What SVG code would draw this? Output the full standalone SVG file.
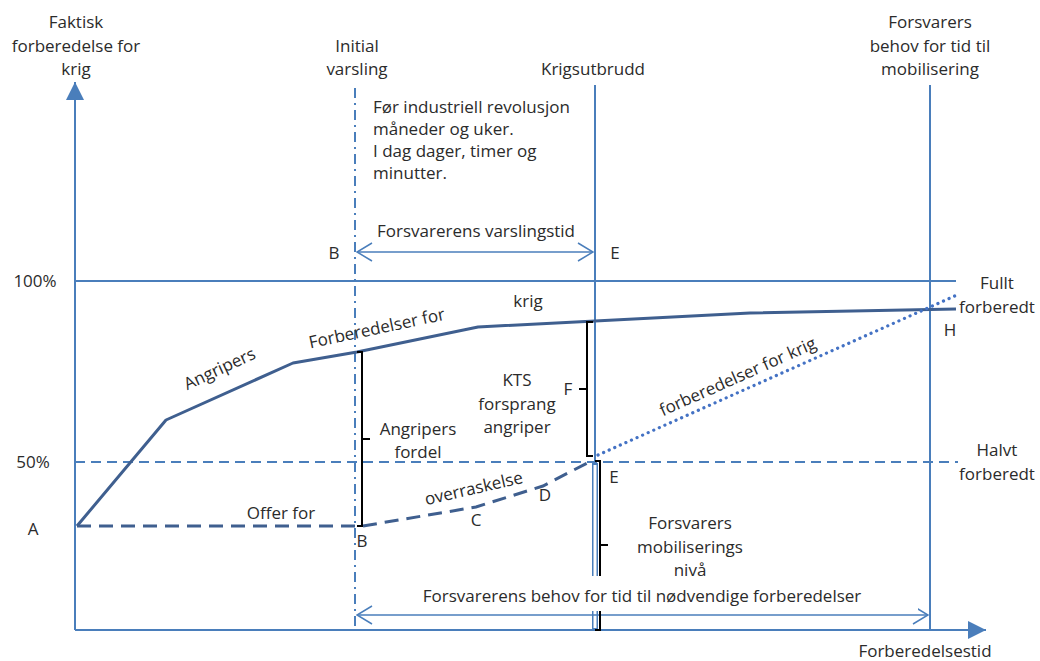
<svg xmlns="http://www.w3.org/2000/svg" width="1040" height="661" viewBox="0 0 1040 661">
<defs>
<style>
text{font-family:"Open Sans","Liberation Sans",sans-serif;font-size:17px;fill:#2b2b2b}
.c{text-anchor:middle}
.ax{stroke:#4a7ebb;stroke-width:2;fill:none}
.thin{stroke:#4a7ebb;stroke-width:1.5;fill:none}
.dash{stroke:#4a7ebb;stroke-width:2;stroke-dasharray:10 6;fill:none}
.dd{stroke:#4a7ebb;stroke-width:2;stroke-dasharray:10 5 2 5;fill:none}
.att{stroke:#3f5f8f;stroke-width:3;fill:none;stroke-linejoin:round}
.def{stroke:#3f5f8f;stroke-width:3;stroke-dasharray:14 8;fill:none}
.dot{stroke:#4472c4;stroke-width:3.2;stroke-dasharray:0.1 6;stroke-linecap:round;fill:none}
.br{stroke:#000;stroke-width:2;fill:none}
</style>
<marker id="fa" viewBox="0 0 10 10" refX="10" refY="5" markerWidth="18" markerHeight="18" markerUnits="userSpaceOnUse" orient="auto">
<path d="M0,0 L10,5 L0,10 z" fill="#4a7ebb"/>
</marker>
<marker id="oa" viewBox="0 0 17 20" refX="16" refY="10" markerWidth="17" markerHeight="20" markerUnits="userSpaceOnUse" orient="auto-start-reverse">
<path d="M1,1 L16,10 L1,19" fill="none" stroke="#4a7ebb" stroke-width="1.5"/>
</marker>
</defs>
<rect width="1040" height="661" fill="#fff"/>

<g id="connectors">
<line class="ax" x1="75" y1="630" x2="75" y2="82" marker-end="url(#fa)"/>
<line class="ax" x1="75" y1="630" x2="986" y2="630" marker-end="url(#fa)"/>
<line class="ax" x1="75" y1="281" x2="956" y2="281"/>
<line class="dash" x1="75" y1="462" x2="958" y2="462"/>
<line class="dd" x1="355" y1="88" x2="355" y2="630"/>
<line class="ax" x1="595" y1="85" x2="595" y2="630"/>
<line stroke="#4a7ebb" stroke-width="6" x1="595" y1="463" x2="595" y2="630"/>
<line stroke="#fff" stroke-width="3" x1="595" y1="465" x2="595" y2="628"/>
<line class="ax" x1="930" y1="85" x2="930" y2="630"/>
<line class="thin" x1="357" y1="252" x2="593" y2="252" marker-start="url(#oa)" marker-end="url(#oa)"/>
<line class="thin" x1="357" y1="615" x2="928" y2="615" marker-start="url(#oa)" marker-end="url(#oa)"/>
<polyline class="att" points="77,526 166,420 293,363 357,352 478,327 595,321 750,313 956,309"/>
<polyline class="def" points="77,526 363,526 476,507 543,486 593,460"/>
<line class="dot" x1="598" y1="455" x2="957" y2="295"/>
<path class="br" d="M357,352 H362 V526 H357 M362,439 H370"/>
<path class="br" d="M593,322 H587 V456 H593 M587,389 H579"/>
<path class="br" d="M595,461 H600 V630 H595 M600,545 H608"/>
</g>

<g id="bottom-label">
<rect x="410" y="576" width="508" height="35" fill="#fff"/>
<text class="c" x="642" y="602">Forsvarerens behov for tid til nødvendige forberedelser</text>
</g>

<g id="axis-labels">
<text class="c" x="76" y="28">Faktisk</text>
<text class="c" x="76" y="52">forberedelse for</text>
<text class="c" x="76" y="75">krig</text>
<text class="c" x="925" y="657">Forberedelsestid</text>
<text class="c" x="35" y="287">100%</text>
<text class="c" x="33" y="468">50%</text>
<text class="c" x="33" y="535">A</text>
</g>

<g id="initial-varsling">
<text class="c" x="357" y="52">Initial</text>
<text class="c" x="357" y="75">varsling</text>
</g>
<g id="krigsutbrudd">
<text class="c" x="593" y="75">Krigsutbrudd</text>
</g>
<g id="forsvarers-behov">
<text class="c" x="930" y="28">Forsvarers</text>
<text class="c" x="930" y="52">behov for tid til</text>
<text class="c" x="930" y="75">mobilisering</text>
</g>
<g id="note">
<text x="373" y="113">Før industriell revolusjon</text>
<text x="373" y="135">måneder og uker.</text>
<text x="373" y="157">I dag dager, timer og</text>
<text x="373" y="179">minutter.</text>
</g>
<g id="varslingstid">
<text class="c" x="476" y="237">Forsvarerens varslingstid</text>
<text class="c" x="334" y="259">B</text>
<text class="c" x="615" y="259">E</text>
</g>
<g id="attacker-curve-labels">
<text class="c" transform="translate(222,374) rotate(-25)">Angripers</text>
<text class="c" transform="translate(378,334) rotate(-12)">Forberedelser for</text>
<text class="c" x="528" y="307">krig</text>
</g>
<g id="angripers-fordel">
<text class="c" x="418" y="435">Angripers</text>
<text class="c" x="418" y="458">fordel</text>
</g>
<g id="kts">
<text class="c" x="517" y="386">KTS</text>
<text class="c" x="517" y="410">forsprang</text>
<text class="c" x="517" y="433">angriper</text>
<text class="c" x="568" y="395">F</text>
</g>
<g id="defender-labels">
<text class="c" x="281" y="519">Offer for</text>
<text class="c" transform="translate(475,494) rotate(-13)">overraskelse</text>
<text class="c" x="476" y="526">C</text>
<text class="c" x="545" y="501">D</text>
<text class="c" x="362" y="547">B</text>
<text class="c" x="614" y="483">E</text>
</g>
<g id="dotted-label">
<text class="c" transform="translate(740,382) rotate(-24)">forberedelser for krig</text>
</g>
<g id="right-labels">
<text class="c" x="997" y="289">Fullt</text>
<text class="c" x="997" y="313">forberedt</text>
<text class="c" x="950" y="336">H</text>
<text class="c" x="997" y="456">Halvt</text>
<text class="c" x="997" y="480">forberedt</text>
</g>
<g id="mobilisering">
<text class="c" x="690" y="529">Forsvarers</text>
<text class="c" x="690" y="553">mobiliserings</text>
<text class="c" x="690" y="576">nivå</text>
</g>
</svg>
